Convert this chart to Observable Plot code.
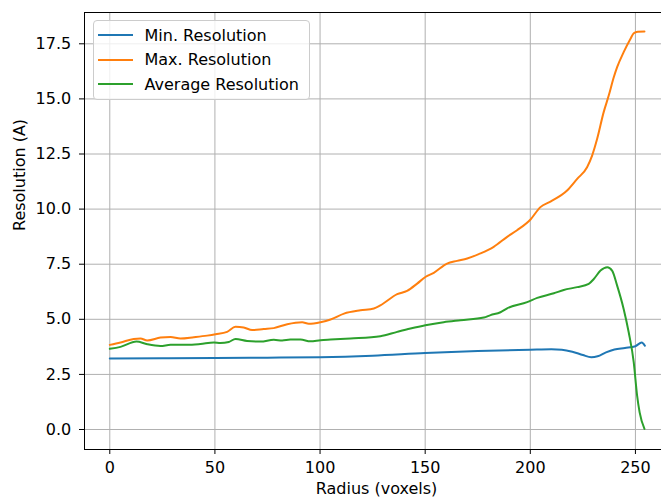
<!DOCTYPE html>
<html>
<head>
<meta charset="utf-8">
<script src="https://cdn.jsdelivr.net/npm/d3@7"></script>
<script src="https://cdn.jsdelivr.net/npm/@observablehq/plot@0.6"></script>
<style>
  body { margin: 0; background: white; }
  #wrap { position: relative; width: 661px; height: 498px; overflow: hidden; font-family: "DejaVu Sans", sans-serif; }
  #legend { position: absolute; left: 92.5px; top: 20px; width: 217.5px; height: 79.5px; border: 1px solid #cccccc; border-radius: 4px; background: rgba(255,255,255,0.8); box-sizing: border-box; }
  .row { position: absolute; left: 0; height: 20px; display: flex; align-items: center; font-size: 16px; color: #000; white-space: nowrap; }
  .swatch { display: inline-block; width: 35px; height: 2px; margin-left: 4.5px; margin-right: 11.5px; }
</style>
</head>
<body>
<div id="wrap"></div>
<script>
const seriesNames = ["Min. Resolution", "Max. Resolution", "Average Resolution"];
const seriesColors = ["#1f77b4", "#ff7f0e", "#2ca02c"];

const minX = [0, 25, 50, 75, 100, 125, 150, 175, 200, 210, 215, 220, 225, 229, 232, 236, 240, 245, 250, 253, 254.5];
const minY = [3.22, 3.23, 3.24, 3.26, 3.28, 3.35, 3.47, 3.56, 3.62, 3.64, 3.62, 3.53, 3.38, 3.28, 3.32, 3.5, 3.63, 3.7, 3.78, 3.95, 3.8];

const maxX = [0, 5.1, 11.4, 14.6, 17.8, 24.1, 28.9, 33.6, 40, 46.3, 50.3, 55.8, 59.8, 63.7, 67.7, 73.2, 78, 84.4, 91.5, 94.6, 100.2, 105, 111.4, 119.2, 125.6, 128.7, 136.7, 141.4, 146.2, 150.1, 154.1, 160.4, 165.2, 170, 176.3, 182.6, 189, 193.7, 200.1, 204.8, 209.6, 217.5, 222.3, 227, 229.4, 231.8, 234.9, 237.3, 239.7, 241.3, 244.4, 247.6, 249.2, 251.1, 254.3];
const maxY = [3.84, 3.95, 4.11, 4.13, 4.04, 4.17, 4.20, 4.13, 4.19, 4.26, 4.32, 4.43, 4.66, 4.63, 4.51, 4.56, 4.6, 4.78, 4.87, 4.80, 4.87, 4.99, 5.26, 5.41, 5.49, 5.63, 6.14, 6.29, 6.62, 6.92, 7.11, 7.53, 7.65, 7.76, 7.99, 8.29, 8.74, 9.04, 9.53, 10.09, 10.34, 10.84, 11.37, 11.9, 12.43, 13.19, 14.4, 15.15, 15.98, 16.44, 17.12, 17.72, 17.98, 18.05, 18.06];

const avgX = [0, 5.1, 12.7, 17.8, 24.1, 28.9, 36.8, 43.1, 49.5, 52.6, 56.6, 59.8, 65.3, 71.7, 78, 82, 85.9, 90.7, 95.4, 100.2, 105, 114.5, 128.7, 136.7, 143, 150.1, 158.8, 166.8, 177.9, 181.1, 185.8, 189, 198.5, 203.3, 211.2, 215.9, 222.3, 227.8, 230.2, 233.4, 236.6, 238.9, 241.3, 244.4, 246.8, 249.2, 250.8, 252, 254.3];
const avgY = [3.66, 3.75, 3.99, 3.87, 3.79, 3.84, 3.84, 3.88, 3.95, 3.92, 3.97, 4.11, 4.02, 3.99, 4.07, 4.04, 4.08, 4.08, 4.0, 4.05, 4.08, 4.13, 4.23, 4.43, 4.58, 4.73, 4.87, 4.96, 5.08, 5.19, 5.32, 5.5, 5.78, 5.97, 6.18, 6.33, 6.46, 6.61, 6.83, 7.21, 7.36, 7.21, 6.53, 5.47, 4.41, 3.05, 1.54, 0.78, 0.03];

const xTicks = [0, 50, 100, 150, 200, 250];
const yTicks = [0, 2.5, 5, 7.5, 10, 12.5, 15, 17.5];
const xLabel = "Radius (voxels)";
const yLabel = "Resolution (A)";

const xDomain = [-12.03, 262.4];
const yDomain = [-0.907, 18.92];

const toRows = (xs, ys) => xs.map((x, i) => ({x, y: ys[i]}));
const series = [toRows(minX, minY), toRows(maxX, maxY), toRows(avgX, avgY)];

const lineMarks = series.map((rows, i) =>
  Plot.line(rows, {x: "x", y: "y", stroke: seriesColors[i], strokeWidth: 2, curve: "monotone-x"}));

const chart = Plot.plot({
  width: 661,
  height: 498,
  marginLeft: 84,
  marginRight: 0,
  marginTop: 12,
  marginBottom: 49,
  style: {fontFamily: "DejaVu Sans", fontSize: "16px", color: "#000", background: "white"},
  x: {domain: xDomain, label: null},
  y: {domain: yDomain, label: null},
  marks: [
    Plot.gridX(xTicks, {stroke: "#b0b0b0", strokeOpacity: 1, strokeWidth: 1}),
    Plot.gridY(yTicks, {stroke: "#b0b0b0", strokeOpacity: 1, strokeWidth: 1}),
    ...lineMarks,
    Plot.ruleX([xDomain[0]], {stroke: "#000", strokeWidth: 1}),
    Plot.ruleY([yDomain[0], yDomain[1]], {stroke: "#000", strokeWidth: 1}),
    Plot.axisX(xTicks, {tickSize: 5, tickPadding: 7.5, label: null, stroke: "#000", fill: "#000", fontSize: 16}),
    Plot.axisY(yTicks, {tickSize: 5, tickPadding: 8.3, label: null, tickFormat: d3.format(".1f"), stroke: "#000", fill: "#000", fontSize: 16}),
    Plot.text([xLabel], {frameAnchor: "bottom", lineAnchor: "top", dy: 33.5, dx: 3.5, fontSize: 16, fill: "#000"}),
    Plot.text([yLabel], {frameAnchor: "left", rotate: -90, lineAnchor: "middle", dx: -65, fontSize: 16, fill: "#000"})
  ]
});

const wrap = document.getElementById("wrap");
wrap.appendChild(chart);

const legend = document.createElement("div");
legend.id = "legend";
seriesNames.forEach((name, i) => {
  const row = document.createElement("div");
  row.className = "row";
  row.style.top = (4.3 + i * 24.5) + "px";
  const sw = document.createElement("span");
  sw.className = "swatch";
  sw.style.background = seriesColors[i];
  const t = document.createElement("span");
  t.textContent = name;
  row.appendChild(sw);
  row.appendChild(t);
  legend.appendChild(row);
});
wrap.appendChild(legend);
</script>
</body>
</html>
